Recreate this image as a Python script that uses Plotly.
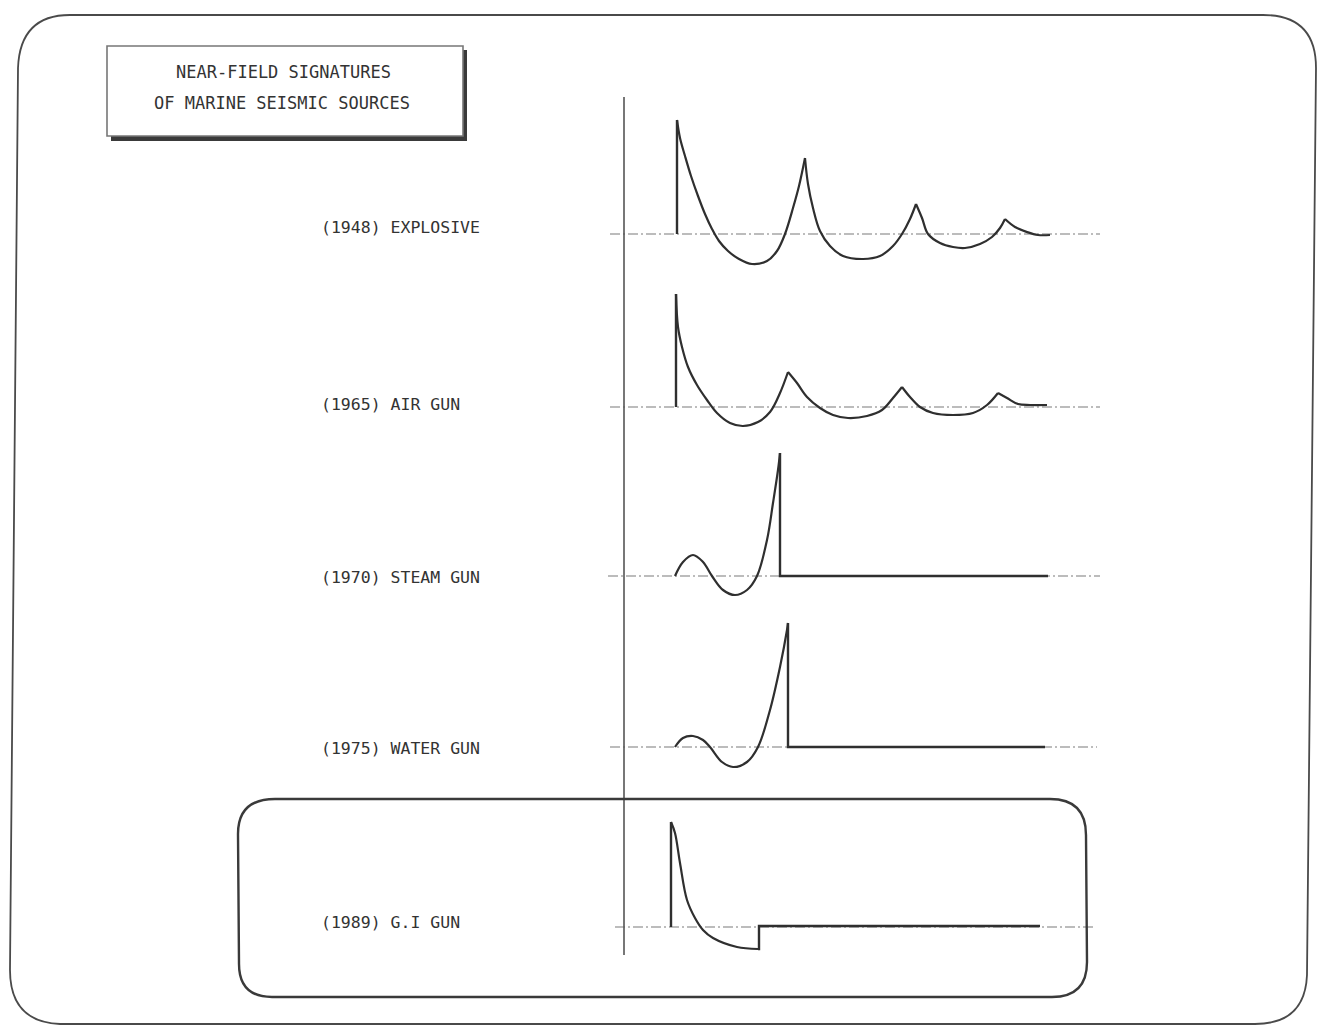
import plotly.graph_objects as go

# ---------------- DATA ----------------
# time axis: arbitrary units, t = 0 at the vertical reference line
# amplitude: arbitrary relative pressure units; None separates segments
sources = ["(1948) EXPLOSIVE", "(1965) AIR GUN", "(1970) STEAM GUN",
           "(1975) WATER GUN", "(1989) G.I GUN"]

explosive_t = [54, 54, None,
               54, 57, 62, 68, 75, 82, 89, 96, 105, 116, 129, 144, 154, 162, 170, 176, 182, None,
               182, 185, 190, 197, 207, 220, 240, 257, 270, 279, 287, 293, None,
               293, 299, 305, 317, 330, 342, 357, 369, 377, 382, None,
               382, 392, 404, 415, 427]
explosive_a = [0, 114, None,
               114, 96, 78, 58, 38, 20, 5, -7, -17, -25, -30, -27, -17, 0, 26, 48, 76, None,
               76, 50, 26, 3, -12, -22, -25, -22, -12, 0, 15, 30, None,
               30, 16, 0, -9, -13, -14, -10, -3, 6, 15, None,
               15, 7, 2, -1, -1]
explosive_straight = [0]

airgun_t = [53, 53, None,
            53, 55, 59, 65, 74, 84, 94, 107, 120, 135, 147, 157, 165, None,
            165, 174, 184, 197, 210, 225, 244, 259, 270, 279, None,
            279, 287, 297, 310, 330, 350, 364, 375, None,
            375, 384, 395, 407, 424]
airgun_a = [0, 113, None,
            113, 80, 60, 40, 22, 7, -6, -16, -19, -15, -5, 14, 35, None,
            35, 24, 10, -1, -8, -11, -9, -3, 9, 20, None,
            20, 10, 0, -6, -8, -6, 2, 14, None,
            14, 9, 3, 2, 2]
airgun_straight = [0]

steamgun_t = [52, 60, 70, 80, 89, 100, 112, 124, 134, 144, 150, 155, 157, None,
              157, 157, 425]
steamgun_a = [0, 14, 21, 14, 0, -14, -19, -14, 0, 36, 73, 106, 123, None,
              123, 0, 0]
steamgun_straight = [1]

watergun_t = [52, 60, 70, 80, 87, 99, 110, 124, 135, 147, 157, 164, 165, None,
              165, 165, 422]
watergun_a = [0, 9, 11, 7, 0, -15, -20, -15, 0, 37, 80, 117, 124, None,
              124, 0, 0]
watergun_straight = [1]

gigun_t = [48, 48, None,
           48, 52, 57, 64, 72, 80, 90, 114, 135, None,
           135, 136, 136, 417]
gigun_a = [0, 105, None,
           105, 94, 64, 27, 9, -3, -11, -20, -22, None,
           -22, -22, 1, 1]
gigun_straight = [0, 2]

signals_t = [explosive_t, airgun_t, steamgun_t, watergun_t, gigun_t]
signals_a = [explosive_a, airgun_a, steamgun_a, watergun_a, gigun_a]
signals_straight = [explosive_straight, airgun_straight, steamgun_straight,
                    watergun_straight, gigun_straight]

title_lines = ["NEAR-FIELD SIGNATURES", "OF MARINE SEISMIC SOURCES"]

# ---------------- LAYOUT / STYLE ----------------
W, H = 1322, 1025
T_AT_LEFT = -623          # time value at the left edge of the page
baseline_px = [234, 407, 576, 747, 927]   # vertical pixel position of each baseline
baseline_ext = [(-13, 477), (-13, 477), (-15, 477), (-13, 474), (-8, 472)]
label_y = [228, 404, 577, 748, 922]
AMP_LO, AMP_HI = -60, 140
INK = "#2f2f2f"
FONT = "DejaVu Sans Mono"


def px(x):
    return x / W


def py(y):
    return 1 - y / H


def split_segments(t, a):
    segs, ct, ca = [], [], []
    for ti, ai in zip(t, a):
        if ti is None:
            segs.append((ct, ca))
            ct, ca = [], []
        else:
            ct.append(ti)
            ca.append(ai)
    if ct:
        segs.append((ct, ca))
    return segs


def join_segments(segs):
    xt, xa = [], []
    for k, (st, sa) in enumerate(segs):
        if k:
            xt.append(None)
            xa.append(None)
        xt += st
        xa += sa
    return xt, xa


fig = go.Figure()

layout_axes = {}
for i, (b, t, a, straight) in enumerate(zip(baseline_px, signals_t, signals_a, signals_straight)):
    yname = "y" if i == 0 else f"y{i+1}"
    akey = "yaxis" if i == 0 else f"yaxis{i+1}"
    layout_axes[akey] = dict(domain=[py(b - AMP_LO), py(b - AMP_HI)], range=[AMP_LO, AMP_HI],
                             visible=False, fixedrange=True)
    segs = split_segments(t, a)
    curved = [s for k, s in enumerate(segs) if k not in straight]
    lines = [s for k, s in enumerate(segs) if k in straight]
    ct, ca = join_segments(curved)
    lt, la = join_segments(lines)
    if ct:
        fig.add_trace(go.Scatter(x=ct, y=ca, yaxis=yname, mode="lines",
                                 line=dict(color=INK, width=2.2, shape="spline", smoothing=1.0),
                                 connectgaps=False, hoverinfo="skip", showlegend=False))
    if lt:
        fig.add_trace(go.Scatter(x=lt, y=la, yaxis=yname, mode="lines",
                                 line=dict(color=INK, width=2.4, shape="linear"),
                                 connectgaps=False, hoverinfo="skip", showlegend=False))

fig.update_layout(**layout_axes)
fig.update_layout(
    width=W, height=H, margin=dict(l=0, r=0, t=0, b=0),
    paper_bgcolor="white", plot_bgcolor="white", showlegend=False,
    xaxis=dict(range=[T_AT_LEFT, T_AT_LEFT + W], visible=False, fixedrange=True, domain=[0, 1]),
)

shapes = []
# dash-dot baselines
for i, (b, (x0, x1)) in enumerate(zip(baseline_px, baseline_ext)):
    yname = "y" if i == 0 else f"y{i+1}"
    shapes.append(dict(type="line", xref="x", yref=yname, x0=x0, x1=x1, y0=0, y1=0,
                       line=dict(color="#7a7a7a", width=1.2, dash="10px,3px,2px,3px"),
                       layer="below"))
# vertical reference line
shapes.append(dict(type="line", xref="x", yref="paper", x0=1, x1=1, y0=py(97), y1=py(955),
                   line=dict(color="#555555", width=1.6)))


def path_from(cmds):
    out = []
    for c in cmds:
        if c[0] in ("M", "L"):
            out.append(f"{c[0]} {px(c[1]):.5f},{py(c[2]):.5f}")
        elif c[0] == "Q":
            out.append(f"Q {px(c[1]):.5f},{py(c[2]):.5f} {px(c[3]):.5f},{py(c[4]):.5f}")
        elif c[0] == "Z":
            out.append("Z")
    return " ".join(out)


# outer rounded frame (slightly skewed like the scan)
outer = [("M", 70, 15), ("L", 1263, 15), ("Q", 1316, 15, 1316, 68),
         ("L", 1307, 975), ("Q", 1305, 1024, 1255, 1024),
         ("L", 60, 1024), ("Q", 10, 1022, 10, 970),
         ("L", 18, 68), ("Q", 20, 15, 70, 15), ("Z",)]
shapes.append(dict(type="path", xref="paper", yref="paper", path=path_from(outer),
                   line=dict(color="#4a4a4a", width=1.8)))

# G.I gun highlight box
gi = [("M", 275, 799), ("L", 1050, 799), ("Q", 1086, 799, 1086, 835),
      ("L", 1087, 962), ("Q", 1087, 997, 1052, 997),
      ("L", 272, 997), ("Q", 239, 997, 239, 964),
      ("L", 238, 834), ("Q", 238, 799, 275, 799), ("Z",)]
shapes.append(dict(type="path", xref="paper", yref="paper", path=path_from(gi),
                   line=dict(color="#3a3a3a", width=2.4)))

# title box with drop shadow
shapes.append(dict(type="rect", xref="paper", yref="paper",
                   x0=px(111), x1=px(467), y0=py(141), y1=py(50),
                   fillcolor="#3a3a3a", line=dict(width=0)))
shapes.append(dict(type="rect", xref="paper", yref="paper",
                   x0=px(107), x1=px(463), y0=py(136), y1=py(46),
                   fillcolor="white", line=dict(color="#777777", width=1.6)))

fig.update_layout(shapes=shapes)

# texts
ann = []
for line, cx, cy in zip(title_lines, [283, 282], [72, 103]):
    ann.append(dict(text=line, xref="paper", yref="paper", x=px(cx), y=py(cy),
                    xanchor="center", yanchor="middle", showarrow=False,
                    font=dict(family=FONT, size=17, color="#333333")))
for name, ly in zip(sources, label_y):
    ann.append(dict(text=name, xref="paper", yref="paper", x=px(319), y=py(ly),
                    xanchor="left", yanchor="middle", showarrow=False,
                    font=dict(family=FONT, size=16.5, color="#333333")))
fig.update_layout(annotations=ann)

fig.write_html("out.html", config={"displayModeBar": False, "staticPlot": True},
               post_script="document.body.style.margin='0';document.body.style.overflow='hidden';")
